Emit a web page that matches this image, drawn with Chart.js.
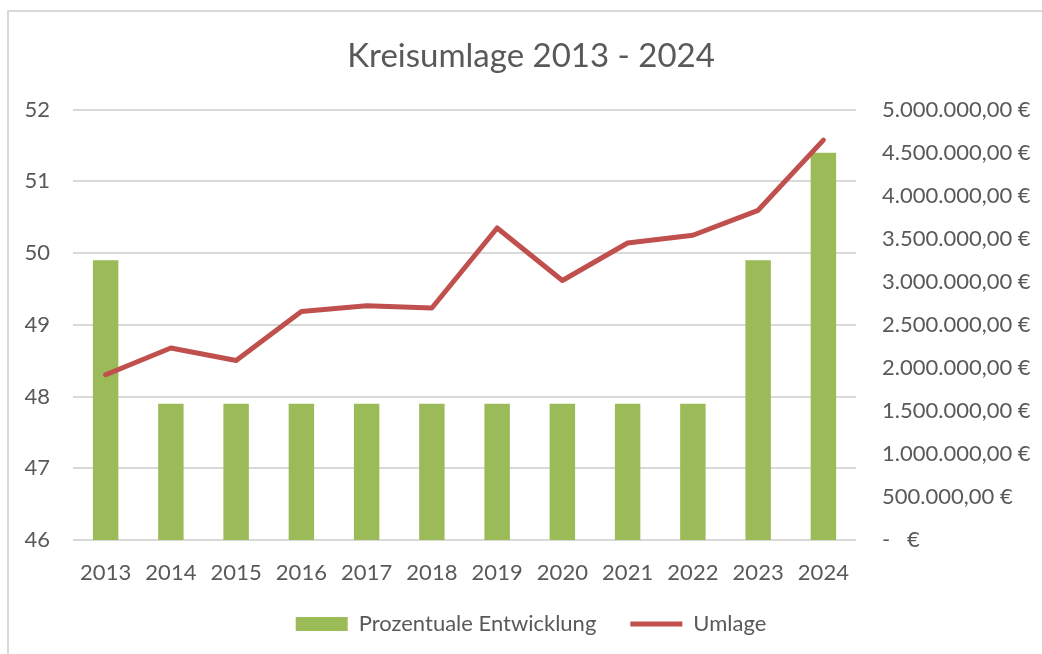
<!DOCTYPE html>
<html lang="de">
<head>
<meta charset="utf-8">
<title>Kreisumlage 2013 - 2024</title>
<script src="https://cdn.jsdelivr.net/npm/chart.js@4"></script>
<style>
  html, body { margin:0; padding:0; background:#fff; }
  .frame { position:absolute; left:7px; top:10px; width:1040px; height:650px;
           border-left:2px solid #d9d9d9; border-top:2px solid #d9d9d9; }
  .wrap { position:absolute; left:0; top:0; width:1042px; height:654px; }
</style>
</head>
<body>
<div class="frame"></div>
<div class="wrap"><canvas id="chart" width="1042" height="654"></canvas></div>
<script>
// ── Data ──────────────────────────────────────────────────────────────────────
const years    = ['2013','2014','2015','2016','2017','2018','2019','2020','2021','2022','2023','2024'];
const prozent  = [49.9, 47.9, 47.9, 47.9, 47.9, 47.9, 47.9, 47.9, 47.9, 47.9, 49.9, 51.4];
const umlage   = [1920000, 2230000, 2085000, 2655000, 2720000, 2695000, 3625000, 3015000, 3450000, 3540000, 3830000, 4645000];
const leftTicks  = [46, 47, 48, 49, 50, 51, 52];
const rightTicks = [0, 500000, 1000000, 1500000, 2000000, 2500000, 3000000, 3500000, 4000000, 4500000, 5000000];

const FONT = 'Lato, "Open Sans", sans-serif';
const TXT  = '#595959';
const GRID = '#d9d9d9';

function euro(v) {
  if (v === 0) return '-   €';
  const int = Math.round(v).toString().replace(/\B(?=(\d{3})+(?!\d))/g, '.');
  return int + ',00 €';
}

// x labels are clipped to the axis box, so let it reach a bit lower after layout
const unclipX = {
  id: 'unclipX',
  afterLayout(chart) { chart.scales.x.bottom += 30; }
};

const ctx = document.getElementById('chart').getContext('2d');
new Chart(ctx, {
  data: {
    labels: years,
    datasets: [
      {
        type: 'line', label: 'Umlage', data: umlage, yAxisID: 'y1',
        borderColor: '#c0504d', backgroundColor: '#c0504d', borderWidth: 5,
        borderCapStyle: 'round', borderJoinStyle: 'round',
        pointRadius: 0, tension: 0, order: 0
      },
      {
        type: 'bar', label: 'Prozentuale Entwicklung', data: prozent, yAxisID: 'y',
        backgroundColor: '#9bbb59', barPercentage: 0.39, categoryPercentage: 1, order: 1
      }
    ]
  },
  plugins: [unclipX],
  options: {
    responsive: false,
    animation: false,
    layout: { padding: { left: 20, right: 0, top: 0, bottom: 9 } },
    plugins: {
      title: {
        display: true, text: 'Kreisumlage 2013 - 2024', color: TXT,
        font: { family: FONT, size: 33, weight: 'normal' },
        padding: { top: 37, bottom: 33 }
      },
      legend: {
        position: 'bottom', reverse: true,
        labels: {
          color: TXT, font: { family: FONT, size: 22 }, padding: 34,
          usePointStyle: true, pointStyleWidth: 52, boxHeight: 14,
          generateLabels(chart) {
            const items = Chart.defaults.plugins.legend.labels.generateLabels(chart);
            items.forEach(it => {
              const ds = chart.data.datasets[it.datasetIndex];
              it.pointStyle = ds.type === 'line' ? 'line' : 'rect';
              if (ds.type === 'bar') { it.lineWidth = 0; it.strokeStyle = ds.backgroundColor; }
            });
            return items;
          }
        }
      },
      tooltip: { enabled: false }
    },
    scales: {
      x: {
        grid: { display: false },
        border: { display: false },
        ticks: { color: TXT, font: { family: FONT, size: 22 }, padding: 12, maxRotation: 0 },
        afterFit(scale) { scale.height = 39; }
      },
      y: {
        position: 'left', min: 46, max: 52,
        afterBuildTicks(scale) { scale.ticks = leftTicks.map(v => ({ value: v })); },
        grid: { color: GRID, lineWidth: 2, drawTicks: false },
        border: { display: false },
        ticks: { color: TXT, font: { family: FONT, size: 22 }, padding: 23 },
        afterFit(scale) { scale.width = 53; }
      },
      y1: {
        position: 'right', min: 0, max: 5000000,
        afterBuildTicks(scale) { scale.ticks = rightTicks.map(v => ({ value: v })); },
        grid: { display: false, drawOnChartArea: false },
        border: { display: false },
        ticks: { color: TXT, font: { family: FONT, size: 22 }, padding: 18, callback: v => euro(v) },
        afterFit(scale) { scale.width = 186; }
      }
    }
  }
});
</script>
</body>
</html>
